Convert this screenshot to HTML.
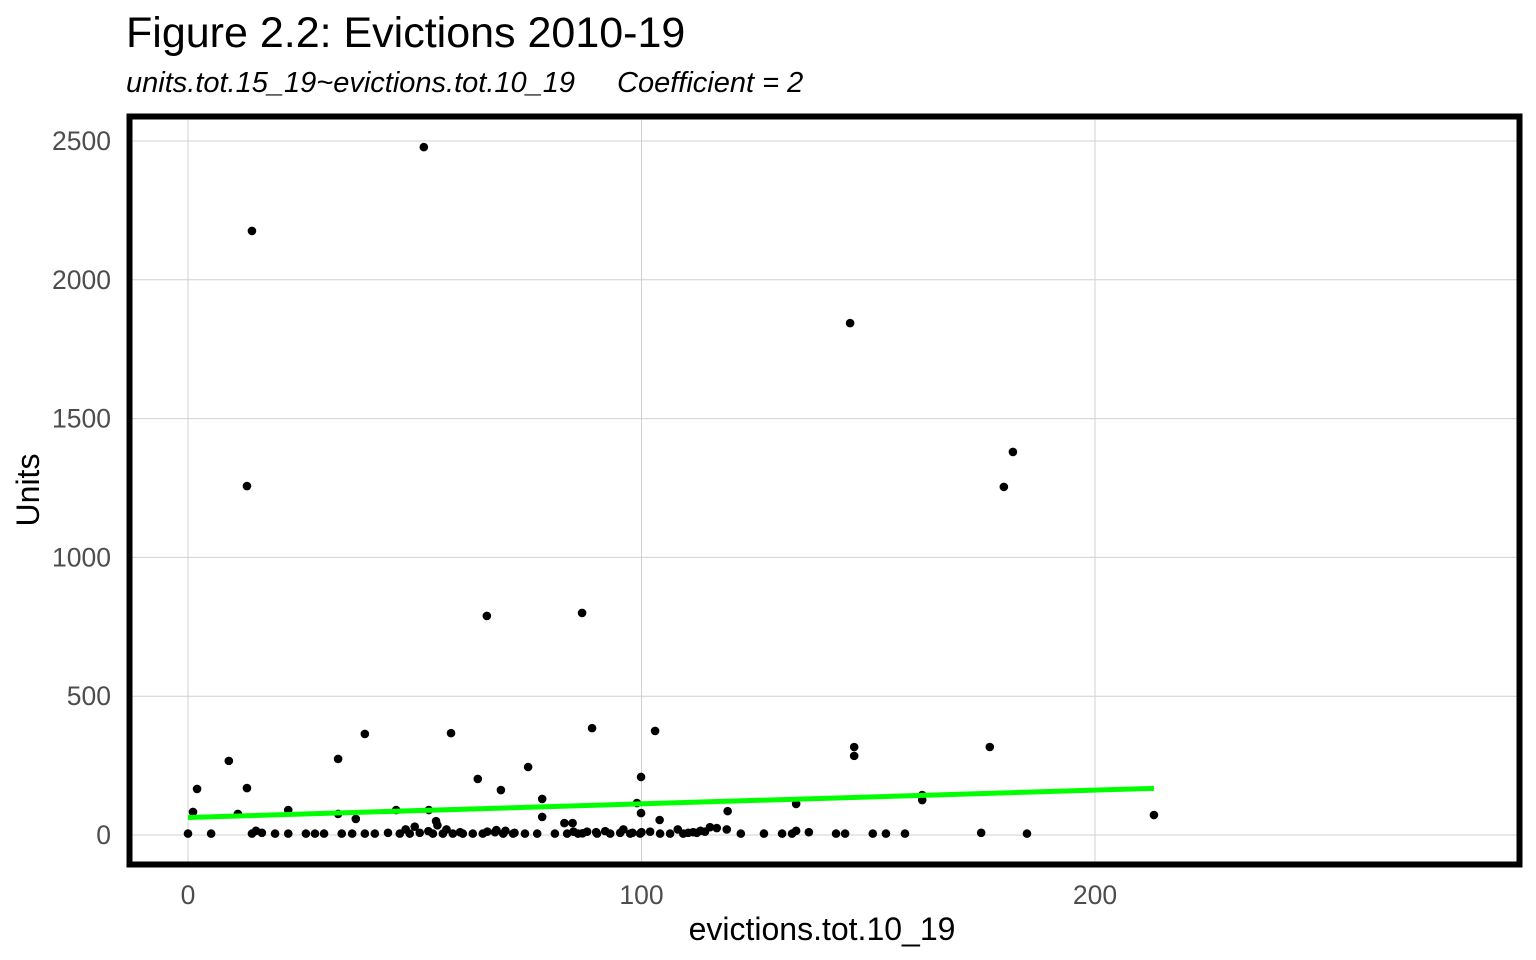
<!DOCTYPE html>
<html><head><meta charset="utf-8"><style>
body{margin:0;background:#fff;width:1536px;height:960px;overflow:hidden;font-family:"Liberation Sans",sans-serif;}
svg{display:block}
</style></head><body>
<svg id="chart" width="1536" height="960" xmlns="http://www.w3.org/2000/svg">
<text x="126" y="47" font-size="43" fill="#000">Figure 2.2: Evictions 2010-19</text>
<text x="126" y="92" font-size="29" font-style="italic" fill="#000">units.tot.15_19~evictions.tot.10_19</text>
<text x="617" y="92" font-size="29" font-style="italic" fill="#000">Coefficient = 2</text>
<g id="grid"></g>
<g id="yticks"></g>
<g id="xticks"></g>
<g id="points"></g>
<g id="fit"></g>
<rect x="129.5" y="116.5" width="1390" height="748" fill="none" stroke="#000" stroke-width="6"/>
<text x="822" y="940" font-size="32" text-anchor="middle" fill="#000">evictions.tot.10_19</text>
<text transform="translate(39,490) rotate(-90)" font-size="32" text-anchor="middle" fill="#000">Units</text>
</svg>
<script>
const xTicks=[0,100,200];
const yTicks=[0,500,1000,1500,2000,2500];
const evictions=[52,14.1,13,146,181.9,179.9,65.9,86.9,89.1,103,58,39,33.1,9,146.9,146.9,176.8,75,99.9,63.9,2,13,69,161.9,161.9,78.1,134.1,213,1.1,11,22.1,33.1,45.9,53.1,37,54.7,78.1,99.9,99,119,104,83,84.8,116.6,118.8,134.1,
0,5.1,14.1,16.3,19.2,22.1,26,28,30,33.9,36.2,39,41.2,44.1,46.7,48.9,51.1,54,56.2,58.4,60.6,62.8,65,67.7,69.5,71.7,74.3,77,80.9,83.6,86,88,90.2,93.1,95.3,97.5,99.7,101.9,104.1,106.3,109.2,110.3,111.4,112.2,114,115.1,121.9,127,131,133.2,136.9,142.9,144.9,151,153.9,158.1,174.9,185,
15,48,50,53,55,57,60,66,68,70,72,85,87,90,92,96,98,100,108,113];
const units=[2478,2176,1257,1844,1380,1254,789,800,385,375,367,364,274,267,317,285,317,245,209,202,166,169,162,144,126,130,112,72,83,76,90,76,90,90,58,50,65,79,115,86,54,43,43,25,20,15,
5,5,5,8,5,5,5,5,5,5,5,5,5,8,5,5,8,5,5,5,5,5,5,10,5,5,5,5,5,5,5,12,5,5,8,5,5,12,5,5,5,8,10,8,12,28,5,5,5,5,10,5,5,5,5,5,8,5,
15,20,30,14,35,20,10,12,18,15,8,12,6,10,14,20,8,10,20,15];
const fitX=[0,213];
const fitY=[63,168];
const X0=188,XS=4.535,Y0=835,YS=0.2776;
const sx=v=>X0+v*XS, sy=v=>Y0-v*YS;
const NS='http://www.w3.org/2000/svg';
function mk(t,a,p){const e=document.createElementNS(NS,t);for(const k in a)e.setAttribute(k,a[k]);p.appendChild(e);return e;}
const grid=document.getElementById('grid'),yt=document.getElementById('yticks'),xt=document.getElementById('xticks');
yTicks.forEach(v=>{
 const l=mk('line',{x1:132,x2:1517,y1:sy(v),y2:sy(v),stroke:'#d0d0d0','stroke-width':1},grid);
 
 
 const t=mk('text',{x:111,y:sy(v)+9,'font-size':26.5,'text-anchor':'end',fill:'#4d4d4d'},yt);
 t.textContent=v;
 
 
});
xTicks.forEach(v=>{
 const l=mk('line',{x1:sx(v),x2:sx(v),y1:120,y2:862,stroke:'#d0d0d0','stroke-width':1},grid);
 
 
 const t=mk('text',{x:sx(v),y:904,'font-size':26.5,'text-anchor':'middle',fill:'#4d4d4d'},xt);
 t.textContent=v;
 
 
});
const pg=document.getElementById('points');
evictions.forEach((x,i)=>{
 const c=mk('circle',{cx:sx(x),cy:sy(units[i]),r:4.3,fill:'#000'},pg);
 
 
});
const fl=mk('line',{x1:sx(fitX[0]),y1:sy(fitY[0]),x2:sx(fitX[1]),y2:sy(fitY[1]),stroke:'#00ff00','stroke-width':5},document.getElementById('fit'));


</script>
</body></html>
